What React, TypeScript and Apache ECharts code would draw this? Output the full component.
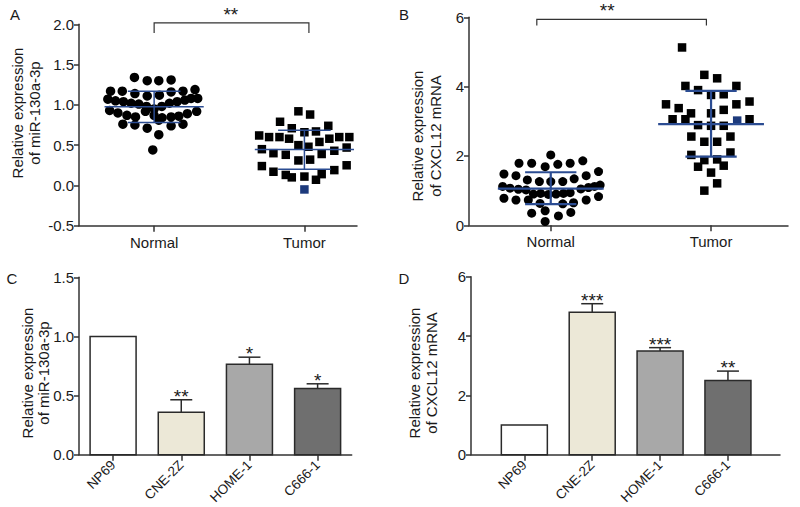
import React, { useEffect, useRef } from 'react';
import * as echarts from 'echarts';

// ---------- data ----------
const groups = ['Normal', 'Tumor'];

// Panel A: miR-130a-3p, dot plot (x offset from group centre, value)
const aNormalOffset = [-0.131, -0.046, 0.031, 0.113, -0.29, -0.212, -0.128, -0.046, 0.035, 0.113, 0.192, 0.272,
  -0.308, -0.257, -0.204, -0.153, -0.102, -0.051, 0.0, 0.051, 0.102, 0.153, 0.204, 0.246, 0.29,
  -0.296, -0.241, -0.181, -0.124, -0.058, 0.0, 0.053, 0.113, 0.164, 0.221, 0.283,
  -0.208, -0.128, -0.046, 0.031, 0.113, 0.192, 0.031, -0.009];
const aNormalValue = [1.34, 1.30, 1.30, 1.31, 1.17, 1.17, 1.14, 1.11, 1.12, 1.16, 1.17, 1.19,
  1.07, 1.05, 1.04, 1.02, 1.01, 0.98, 0.95, 0.98, 1.02, 1.04, 1.06, 1.08, 1.08,
  0.93, 0.90, 0.87, 0.85, 0.92, 0.87, 0.84, 0.85, 0.86, 0.89, 0.92,
  0.76, 0.75, 0.71, 0.81, 0.74, 0.76, 0.63, 0.44];
const aTumorOffset = [-0.04, 0.038, -0.162, -0.084, 0.0, 0.077, 0.159, -0.301, -0.235, -0.166, -0.102, 0.1, 0.166, 0.232, 0.299,
  -0.283, -0.206, -0.124, -0.04, 0.027, 0.115, 0.199, 0.281,
  -0.283, -0.206, -0.124, -0.084, -0.04, 0.038, 0.0, 0.077, 0.115, 0.199, 0.281, 0.0];
const aTumorValue = [0.92, 0.88, 0.79, 0.71, 0.66, 0.67, 0.74, 0.62, 0.60, 0.60, 0.58, 0.54, 0.58, 0.60, 0.60,
  0.45, 0.40, 0.38, 0.50, 0.48, 0.39, 0.43, 0.47,
  0.24, 0.17, 0.13, 0.10, 0.31, 0.32, 0.11, 0.07, 0.14, 0.19, 0.25, -0.05];
const aTumorHighlighted = [34];
const aMean = [0.975, 0.446];
const aSdLow = [0.78, 0.2];
const aSdHigh = [1.17, 0.686];

// Panel B: CXCL12 mRNA
const bNormalOffset = [0.0, -0.198, -0.119, -0.035, 0.044, 0.121, 0.2, -0.292, -0.217, -0.146, -0.071, 0.0, 0.075, 0.146, 0.221, 0.298,
  -0.3, -0.254, -0.202, -0.154, 0.188, 0.235, 0.273, 0.308, -0.108, -0.063, -0.015, 0.033, 0.079, 0.121,
  -0.292, -0.217, -0.14, -0.067, 0.075, 0.142, 0.221, 0.298, -0.119, -0.035, 0.048, 0.125, -0.035];
const bNormalValue = [2.03, 1.79, 1.79, 1.69, 1.76, 1.79, 1.86, 1.48, 1.43, 1.31, 1.26, 1.26, 1.26, 1.34, 1.43, 1.55,
  1.12, 1.07, 1.04, 1.02, 1.05, 1.09, 1.12, 1.16, 0.90, 0.92, 0.89, 0.90, 0.92, 0.94,
  0.78, 0.73, 0.73, 0.63, 0.62, 0.65, 0.73, 0.83, 0.35, 0.42, 0.27, 0.37, 0.11];
const bTumorOffset = [-0.181, -0.042, 0.038, -0.16, -0.081, 0.0, 0.079, 0.158, -0.281, -0.202, -0.125, 0.0, 0.079, 0.158, 0.24,
  -0.24, -0.16, -0.081, 0.0, 0.079, 0.163, 0.24, -0.123, -0.042, 0.038, 0.121,
  -0.123, -0.042, 0.038, 0.121, -0.081, 0.0, 0.079, 0.038, -0.042];
const bTumorValue = [5.13, 4.34, 4.24, 4.02, 3.90, 3.76, 3.78, 4.02, 3.49, 3.38, 3.23, 3.23, 3.33, 3.49, 3.57,
  3.06, 3.06, 2.89, 2.87, 2.87, 3.02, 3.06, 2.56, 2.41, 2.41, 2.56,
  2.03, 1.88, 1.90, 2.10, 1.69, 1.52, 1.72, 1.21, 1.00];
const bTumorHighlighted = [20];
const bMean = [1.06, 2.92];
const bSdLow = [0.61, 1.98];
const bSdHigh = [1.53, 3.88];

// significance brackets: [from, to, level, starX]
const aBracket = [1.0, 2.03, 2.017, 1.51];
const bBracket = [0.913, 1.971, 5.94, 1.352];
const aBracketStars = '**';
const bBracketStars = '**';

// Panels C, D: cell lines
const cellLines = ['NP69', 'CNE-2Z', 'HOME-1', 'C666-1'];
const cValues = [1.0, 0.36, 0.765, 0.56];
const cErrors = [0, 0.105, 0.06, 0.04];
const cStars = ['', '**', '*', '*'];
const dValues = [1.0, 4.8, 3.5, 2.5];
const dErrors = [0, 0.29, 0.11, 0.32];
const dStars = ['', '***', '***', '**'];
const barColors = ['#ffffff', '#ece8d7', '#a8a8a8', '#6f6f6f'];

// ---------- styling ----------
const FONT = '"Liberation Sans", Arial, Helvetica, sans-serif';
const AX = '#333333';
const TXT = '#1a1a1a';
const NAVY = '#2b4c92';
const BLUE_PT = '#1d3a7c';

function yAxis(gridIndex: number, min: number, max: number, interval: number, digits: number) {
  return {
    type: 'value', gridIndex, min, max, interval,
    axisLine: { show: true, onZero: false, lineStyle: { color: AX, width: 1.5 } },
    axisTick: { show: true, length: 5, lineStyle: { color: AX, width: 1.5 } },
    axisLabel: { color: TXT, fontSize: 15, fontFamily: FONT, margin: 5, formatter: (v: number) => v.toFixed(digits) },
    splitLine: { show: false },
  };
}

function xGroupAxis(gridIndex: number, min: number, max: number) {
  return {
    type: 'value', gridIndex, min, max,
    axisLine: { show: true, onZero: false, lineStyle: { color: AX, width: 1.5 } },
    axisTick: { show: true, length: 6, customValues: [1, 2], lineStyle: { color: AX, width: 1.5 } },
    axisLabel: { color: TXT, fontSize: 15, fontFamily: FONT, margin: 9, customValues: [1, 2],
      formatter: (v: number) => groups[Math.round(v) - 1] },
    splitLine: { show: false },
  };
}

function xCellAxis(gridIndex: number, min: number, max: number) {
  return {
    type: 'value', gridIndex, min, max,
    axisLine: { show: true, onZero: false, lineStyle: { color: AX, width: 1.5 } },
    axisTick: { show: true, length: 6, customValues: [0, 1, 2, 3], lineStyle: { color: AX, width: 1.5 } },
    axisLabel: { color: TXT, fontSize: 13.5, fontFamily: FONT, margin: 8, rotate: 45, customValues: [0, 1, 2, 3],
      formatter: (v: number) => cellLines[Math.round(v)] },
    splitLine: { show: false },
  };
}

function scatterSeries(idx: number, offsets: number[], values: number[], centre: number, symbol: string, size: number, highlighted: number[]) {
  return {
    type: 'scatter', xAxisIndex: idx, yAxisIndex: idx, symbol, symbolSize: size, z: 2,
    itemStyle: { color: '#000000', opacity: 1 },
    data: values.map((v, i) => highlighted.includes(i)
      ? { value: [centre + offsets[i], v], itemStyle: { color: BLUE_PT, opacity: 1 } }
      : [centre + offsets[i], v]),
  };
}

function meanSdSeries(idx: number, mean: number[], low: number[], high: number[], meanHalf: number, sdHalf: number, width: number) {
  return {
    type: 'custom', xAxisIndex: idx, yAxisIndex: idx, z: 5, clip: false,
    data: mean.map((m, i) => [i + 1, m, low[i], high[i]]),
    renderItem: (_p: any, api: any) => {
      const x = api.value(0), m = api.value(1), lo = api.value(2), hi = api.value(3);
      const st = { stroke: NAVY, lineWidth: width };
      const ml = api.coord([x - meanHalf, m]), mr = api.coord([x + meanHalf, m]);
      const hl = api.coord([x - sdHalf, hi]), hr = api.coord([x + sdHalf, hi]);
      const ll = api.coord([x - sdHalf, lo]), lr = api.coord([x + sdHalf, lo]);
      const vt = api.coord([x, hi]), vb = api.coord([x, lo]);
      return {
        type: 'group', children: [
          { type: 'line', shape: { x1: ml[0], y1: ml[1], x2: mr[0], y2: mr[1] }, style: st },
          { type: 'line', shape: { x1: hl[0], y1: hl[1], x2: hr[0], y2: hr[1] }, style: st },
          { type: 'line', shape: { x1: ll[0], y1: ll[1], x2: lr[0], y2: lr[1] }, style: st },
          { type: 'line', shape: { x1: vt[0], y1: vt[1], x2: vb[0], y2: vb[1] }, style: st },
        ],
      };
    },
  };
}

function bracketSeries(idx: number, b: number[], stars: string, leg: number) {
  return {
    type: 'custom', xAxisIndex: idx, yAxisIndex: idx, z: 5, clip: false,
    data: [b],
    renderItem: (_p: any, api: any) => {
      const l = api.coord([api.value(0), api.value(2)]);
      const r = api.coord([api.value(1), api.value(2)]);
      const s = api.coord([api.value(3), api.value(2)]);
      const st = { stroke: '#333', lineWidth: 1.2, fill: null };
      return {
        type: 'group', children: [
          { type: 'polyline', shape: { points: [[l[0], l[1] + leg], [l[0], l[1]], [r[0], r[1]], [r[0], r[1] + leg]] }, style: st },
          { type: 'text', x: s[0], y: l[1] + 1, style: { text: stars, fontSize: 19, fontFamily: FONT, fill: TXT, align: 'center', verticalAlign: 'bottom' } },
        ],
      };
    },
  };
}

function barSeries(idx: number, values: number[], errors: number[], stars: string[]) {
  return {
    type: 'custom', xAxisIndex: idx, yAxisIndex: idx, z: 3, clip: false,
    data: values.map((v, i) => [i, v, v + errors[i], i]),
    renderItem: (_p: any, api: any) => {
      const x = api.value(0), v = api.value(1), e = api.value(2), k = api.value(3);
      const base = api.coord([x, 0]);
      const top = api.coord([x, v]);
      const et = api.coord([x, e]);
      const half = 23;
      const st = { stroke: '#2a2a2a', lineWidth: 1.5 };
      const children: any[] = [];
      if (e > v) {
        children.push({ type: 'line', shape: { x1: top[0], y1: top[1], x2: et[0], y2: et[1] }, style: st });
        children.push({ type: 'line', shape: { x1: et[0] - 11, y1: et[1], x2: et[0] + 11, y2: et[1] }, style: st });
      }
      children.push({ type: 'rect', shape: { x: base[0] - half, y: top[1], width: half * 2, height: base[1] - top[1] },
        style: { fill: barColors[k], stroke: '#2a2a2a', lineWidth: 1.5 } });
      if (stars[k]) {
        children.push({ type: 'text', x: et[0], y: et[1] + 6, style: { text: stars[k], fontSize: 19, fontFamily: FONT, fill: TXT, align: 'center', verticalAlign: 'bottom' } });
      }
      return { type: 'group', children };
    },
  };
}

function vTitle(x: number, y: number, text: string) {
  return { type: 'text', x, y, rotation: Math.PI / 2,
    style: { text, fontSize: 15, fontFamily: FONT, fill: TXT, align: 'center', verticalAlign: 'middle' } };
}
function letter(x: number, y: number, text: string) {
  return { type: 'text', x, y, style: { text, fontSize: 15, fontFamily: FONT, fill: TXT, align: 'center', verticalAlign: 'middle' } };
}

export default function App() {
  const ref = useRef<HTMLDivElement>(null);
  useEffect(() => {
    document.body.style.margin = '0';
    if (!ref.current) return;
    const chart = echarts.init(ref.current, null, { renderer: 'svg' });
    chart.setOption({
      animation: false,
      backgroundColor: '#ffffff',
      textStyle: { fontFamily: FONT },
      grid: [
        { left: 79, top: 24.3, width: 278, height: 201.4 },
        { left: 469, top: 17.3, width: 319, height: 208 },
        { left: 79, top: 277.3, width: 272.7, height: 181 },
        { left: 471, top: 276.7, width: 309, height: 181.3 },
      ],
      xAxis: [
        xGroupAxis(0, 0.5, 2.35),
        xGroupAxis(1, 0.49, 2.48),
        xCellAxis(2, -0.5, 3.5),
        xCellAxis(3, -0.786, 3.767),
      ],
      yAxis: [
        yAxis(0, -0.5, 2.0, 0.5, 1),
        yAxis(1, 0, 6, 2, 0),
        yAxis(2, 0, 1.5, 0.5, 1),
        yAxis(3, 0, 6, 2, 0),
      ],
      series: [
        scatterSeries(0, aNormalOffset, aNormalValue, 1, 'circle', 9.5, []),
        scatterSeries(0, aTumorOffset, aTumorValue, 2, 'rect', 8.5, aTumorHighlighted),
        meanSdSeries(0, aMean, aSdLow, aSdHigh, 0.33, 0.175, 1.5),
        bracketSeries(0, aBracket, aBracketStars, 10),
        scatterSeries(1, bNormalOffset, bNormalValue, 1, 'circle', 9, []),
        scatterSeries(1, bTumorOffset, bTumorValue, 2, 'rect', 8.5, bTumorHighlighted),
        meanSdSeries(1, bMean, bSdLow, bSdHigh, 0.33, 0.16, 2.2),
        bracketSeries(1, bBracket, bBracketStars, 6),
        barSeries(2, cValues, cErrors, cStars),
        barSeries(3, dValues, dErrors, dStars),
      ],
      graphic: [
        letter(15, 14, 'A'), letter(404, 14, 'B'), letter(12, 278, 'C'), letter(404, 278, 'D'),
        vTitle(17, 113, 'Relative expression'), vTitle(34, 113, 'of miR-130a-3p'),
        vTitle(417, 136, 'Relative expression'), vTitle(435, 136, 'of CXCL12 mRNA'),
        vTitle(27, 373, 'Relative expression'), vTitle(43, 373, 'of miR-130a-3p'),
        vTitle(414, 373, 'Relative expression'), vTitle(431, 373, 'of CXCL12 mRNA'),
      ],
    });
    return () => chart.dispose();
  }, []);
  return <div ref={ref} style={{ width: 800, height: 507 }} />;
}
